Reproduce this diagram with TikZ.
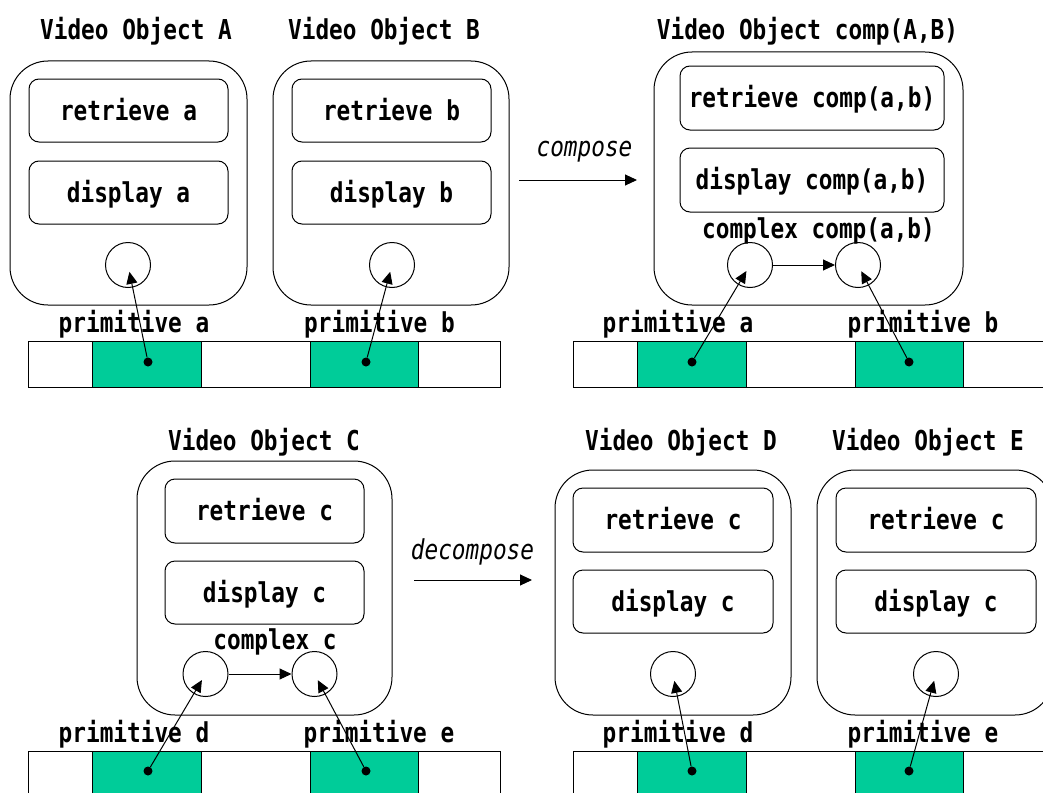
\documentclass[tikz,border=0pt]{standalone}
\usepackage{fontspec}
\newfontfamily\gothic[FakeStretch=0.83]{DejaVu Sans Mono}
\usetikzlibrary{arrows.meta}
\definecolor{segfill}{HTML}{00CC99}
\tikzset{
  objbox/.style 2 args={draw, line width=1pt, rounded corners=38pt,
    minimum width=#1pt, minimum height=#2pt, inner sep=0pt},
  opbox/.style 2 args={draw, line width=1pt, rounded corners=10pt,
    minimum width=#1pt, minimum height=#2pt, inner sep=0pt,
    text height=19pt, text depth=0pt},
  slot/.style={draw, circle, line width=1pt, minimum size=45pt, inner sep=0pt},
  pin/.style={circle, fill, minimum size=9pt, inner sep=0pt},
  lbl/.style={anchor=base, inner sep=0pt},
  opname/.style={lbl, font=\gothic\fontsize{27.4pt}{30pt}\selectfont\itshape},
  link/.style={-{Triangle[length=12pt,width=11pt]}, line width=1pt},
  feed/.style={link, shorten >=7pt},
  seg/.style={draw, line width=1pt},
  media/.style={seg, fill=segfill},
}
\begin{document}
\begin{tikzpicture}[x=1pt, y=-1pt,
  font=\gothic\bfseries\fontsize{27.4pt}{30pt}\selectfont]
\useasboundingbox (0,0) rectangle (1043,792);
\clip (0,0) rectangle (1043,792);

% media tapes with their primitive segments
\foreach \ty in {341,751}{
  \foreach \tx in {28,573}{
    \draw[seg] (\tx,\ty) rectangle ++(472,46);
    \draw[media] (\tx+64,\ty) rectangle ++(109,46);
    \draw[media] (\tx+282,\ty) rectangle ++(108,46);
  }
}

% ---- Video Object A ----
\node[objbox={237}{244}] (objA) at (128.5,183) {};
\node[lbl] (titleA) at (136,40) {Video Object A};
\node[opbox={199}{63}] (retA) at (128.5,110.5) {retrieve a};
\node[opbox={199}{63}] (dispA) at (128.5,192.5) {display a};
\node[slot] (slotA) at (128,265) {};
\node[lbl] (primA) at (134,332) {primitive a};
\node[pin] (pinA) at (148,362) {};
\draw[feed] (pinA) -- (slotA.center);

% ---- Video Object B ----
\node[objbox={236}{244}] (objB) at (391,183) {};
\node[lbl] (titleB) at (384,40) {Video Object B};
\node[opbox={199}{63}] (retB) at (391.5,110.5) {retrieve b};
\node[opbox={199}{63}] (dispB) at (391.5,192.5) {display b};
\node[slot] (slotB) at (392,265) {};
\node[lbl] (primB) at (379.5,332) {primitive b};
\node[pin] (pinB) at (366,362) {};
\draw[feed] (pinB) -- (slotB.center);

% ---- compose ----
\coordinate (composeL) at (519,180);
\coordinate (composeR) at (637,180);
\draw[link] (composeL) -- (composeR);
\node[opname] (composeT) at (584.5,156) {compose};

% ---- Video Object comp(A,B) ----
\node[objbox={309}{253}] (objAB) at (808.5,178.5) {};
\node[lbl] (titleAB) at (807.5,40) {Video Object comp(A,B)};
\node[opbox={264}{64}] (retAB) at (812,98) {retrieve comp(a,b)};
\node[opbox={264}{64}] (dispAB) at (812,180) {display comp(a,b)};
\node[lbl] (cplxAB) at (818.5,238) {complex comp(a,b)};
\node[slot] (slotABa) at (750,265) {};
\node[slot] (slotABb) at (858,265) {};
\draw[link] (slotABa) -- (slotABb);
\node[lbl] (primABa) at (678,332) {primitive a};
\node[lbl] (primABb) at (923,332) {primitive b};
\node[pin] (pinABa) at (692,362) {};
\node[pin] (pinABb) at (909,362) {};
\draw[feed] (pinABa) -- (slotABa.center);
\draw[feed] (pinABb) -- (slotABb.center);

% ---- Video Object C ----
\node[objbox={255}{254}] (objC) at (264.5,588) {};
\node[lbl] (titleC) at (264,450) {Video Object C};
\node[opbox={199}{64}] (retC) at (264.5,511) {retrieve c};
\node[opbox={199}{63}] (dispC) at (264.5,592.5) {display c};
\node[lbl] (cplxC) at (275,649) {complex c};
\node[slot] (slotCa) at (205.5,674) {};
\node[slot] (slotCb) at (314.5,674) {};
\draw[link] (slotCa) -- (slotCb);
\node[lbl] (primCd) at (134,742) {primitive d};
\node[lbl] (primCe) at (379,742) {primitive e};
\node[pin] (pinCd) at (148,771) {};
\node[pin] (pinCe) at (366,771) {};
\draw[feed] (pinCd) -- (slotCa.center);
\draw[feed] (pinCe) -- (slotCb.center);

% ---- decompose ----
\coordinate (decompL) at (414,580);
\coordinate (decompR) at (532,580);
\draw[link] (decompL) -- (decompR);
\node[opname] (decompT) at (472.5,559) {decompose};

% ---- Video Object D ----
\node[objbox={236}{245}] (objD) at (673,592.5) {};
\node[lbl] (titleD) at (681,450) {Video Object D};
\node[opbox={200}{64}] (retD) at (673,520) {retrieve c};
\node[opbox={200}{63}] (dispD) at (673,601.5) {display c};
\node[slot] (slotD) at (673,674) {};
\node[lbl] (primD) at (678,742) {primitive d};
\node[pin] (pinD) at (692,771) {};
\draw[feed] (pinD) -- (slotD.center);

% ---- Video Object E ----
\node[objbox={236}{245}] (objE) at (935,592.5) {};
\node[lbl] (titleE) at (928,450) {Video Object E};
\node[opbox={200}{64}] (retE) at (936,520) {retrieve c};
\node[opbox={200}{63}] (dispE) at (936,601.5) {display c};
\node[slot] (slotE) at (936,674) {};
\node[lbl] (primE) at (923,742) {primitive e};
\node[pin] (pinE) at (909,771) {};
\draw[feed] (pinE) -- (slotE.center);
\end{tikzpicture}
\end{document}
